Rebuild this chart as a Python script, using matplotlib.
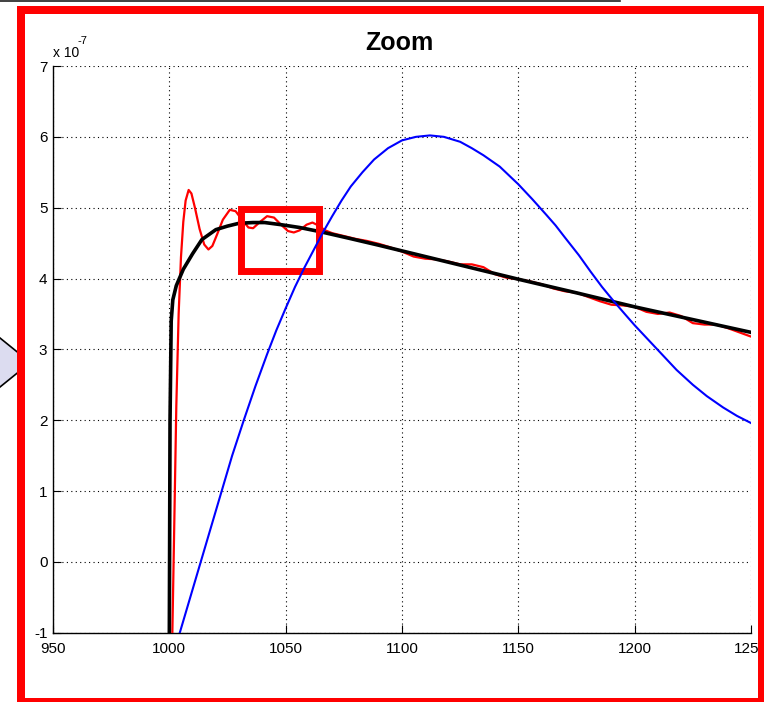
import matplotlib
matplotlib.use('Agg')
import matplotlib.pyplot as plt
from matplotlib.patches import Rectangle, Polygon
from matplotlib.lines import Line2D

plt.rcParams['font.family'] = ['Liberation Sans Narrow', 'Liberation Sans', 'DejaVu Sans']

W, H = 764, 702

# values in units of 1e-7
blue_x = [1004.5, 1009, 1013.5, 1018, 1022.5, 1027, 1032, 1037, 1042, 1046, 1050, 1054,
          1058, 1062, 1066, 1070, 1074, 1078, 1083, 1088, 1094, 1100, 1106, 1112, 1118,
          1125, 1130, 1135, 1142, 1150, 1156, 1162, 1166, 1170, 1176, 1181, 1186,
          1191, 1196, 1200, 1206, 1212, 1218, 1225, 1231, 1238, 1244, 1250]
blue_y = [-1.0, -0.5, 0.0, 0.5, 1.0, 1.5, 2.0, 2.48, 2.93, 3.27, 3.58, 3.88,
          4.15, 4.4, 4.65, 4.88, 5.1, 5.3, 5.5, 5.68, 5.84, 5.95, 6.0, 6.02, 6.0,
          5.93, 5.84, 5.74, 5.58, 5.33, 5.12, 4.9, 4.75, 4.58, 4.33, 4.1, 3.88,
          3.68, 3.49, 3.34, 3.13, 2.92, 2.71, 2.5, 2.34, 2.18, 2.06, 1.96]

black_x = [1000, 1000.3, 1000.8, 1001.5, 1003, 1006, 1010, 1014, 1020, 1025, 1030, 1036,
           1041, 1048, 1056, 1065, 1077, 1090, 1100, 1125, 1150, 1176, 1200, 1225, 1250]
black_y = [-1.0, 2.0, 3.4, 3.7, 3.9, 4.13, 4.35, 4.55, 4.69, 4.74, 4.78, 4.79,
           4.79, 4.76, 4.72, 4.66, 4.57, 4.47, 4.39, 4.19, 3.99, 3.79, 3.6, 3.42, 3.24]

red_x = [1001.3, 1002, 1003, 1004, 1005, 1006, 1007, 1008.3, 1009.5, 1011, 1013, 1015,
         1016.8, 1018.5, 1020.5, 1023, 1026, 1028.5, 1031, 1034, 1036, 1039, 1042, 1045,
         1048, 1051, 1053.5, 1056, 1059, 1061.5, 1064, 1067, 1070, 1075, 1080, 1085,
         1090, 1095, 1100, 1105, 1110, 1115, 1120, 1125, 1130, 1135, 1140, 1145, 1150,
         1155, 1160, 1165, 1170, 1175, 1180, 1185, 1190, 1195, 1200, 1205, 1210, 1215,
         1220, 1225, 1230, 1235, 1240, 1245, 1250]
red_y = [-1.0, 0.3, 2.2, 3.5, 4.3, 4.8, 5.1, 5.25, 5.2, 5.0, 4.7, 4.48,
         4.41, 4.46, 4.62, 4.83, 4.97, 4.95, 4.84, 4.72, 4.71, 4.8, 4.88, 4.86,
         4.76, 4.67, 4.65, 4.68, 4.76, 4.79, 4.75, 4.68, 4.64, 4.6, 4.56, 4.53,
         4.49, 4.44, 4.38, 4.31, 4.28, 4.27, 4.24, 4.2, 4.2, 4.16, 4.06, 4.01, 3.99,
         3.96, 3.92, 3.86, 3.82, 3.8, 3.74, 3.68, 3.63, 3.62, 3.6, 3.53, 3.5, 3.52,
         3.47, 3.37, 3.35, 3.35, 3.3, 3.24, 3.18]

zoom_box = (1031.0, 4.11, 1064.2, 4.98)  # x0, y0, x1, y1
xticks = [950, 1000, 1050, 1100, 1150, 1200, 1250]
yticks = [-1, 0, 1, 2, 3, 4, 5, 6, 7]


def fx(px):
    return px / W


def fy(py):
    return 1 - py / H


fig = plt.figure(figsize=(W / 100, H / 100), dpi=100)
ax = fig.add_axes([fx(53), fy(632.7), fx(751) - fx(53), fy(66) - fy(632.7)])

ax.plot(red_x, red_y, color='red', lw=1.6, zorder=3)
ax.plot(black_x, black_y, color='black', lw=2.6, zorder=4)
ax.plot(blue_x, blue_y, color='blue', lw=1.5, zorder=6)
ax.add_patch(Rectangle((zoom_box[0], zoom_box[1]), zoom_box[2] - zoom_box[0],
                       zoom_box[3] - zoom_box[1], fill=False, edgecolor='red',
                       lw=5, joinstyle='miter', zorder=5))

ax.set_xlim(950, 1250)
ax.set_ylim(-1, 7)
ax.set_xticks(xticks)
ax.set_yticks(yticks)
ax.set_xticklabels([str(t) for t in xticks])
ax.set_yticklabels([str(t) for t in yticks])
ax.grid(True, color='black', linestyle=(0, (1, 3)), lw=0.8)
ax.tick_params(direction='in', length=5.5, width=0.8, labelsize=11)
ax.tick_params(axis='x', pad=7)
ax.tick_params(axis='y', pad=4)
for s in ['top', 'right']:
    ax.spines[s].set_visible(False)
for s in ['left', 'bottom']:
    ax.spines[s].set_linewidth(1.0)

fig.text(fx(399), fy(50), 'Zoom', ha='center', va='baseline', fontsize=18, fontweight='bold')
fig.text(fx(53), fy(57), 'x 10', ha='left', va='baseline', fontsize=10)
fig.text(fx(77), fy(44), '-7', ha='left', va='baseline', fontsize=8)

# decoration around the panel
arrow = Polygon([(fx(0), fy(338)), (fx(21), fy(355)), (fx(21), fy(370)), (fx(0), fy(387))],
                closed=True, facecolor='#dcdcf0', edgecolor='none', transform=fig.transFigure)
fig.patches.append(arrow)
fig.lines.append(Line2D([fx(0), fx(21)], [fy(338), fy(355)], color='black', lw=1.2,
                        transform=fig.transFigure))
fig.lines.append(Line2D([fx(0), fx(21)], [fy(387), fy(370)], color='black', lw=1.2,
                        transform=fig.transFigure))
fig.lines.append(Line2D([0, fx(620)], [fy(0.8), fy(0.8)], color='#202020', lw=1.2,
                        transform=fig.transFigure))
frame = Rectangle((fx(21), fy(702)), fx(761.5) - fx(21), fy(10) - fy(702), fill=False,
                  edgecolor='red', lw=8 * 0.72, joinstyle='miter', transform=fig.transFigure,
                  zorder=10)
fig.patches.append(frame)

fig.savefig('out.png', dpi=100)
